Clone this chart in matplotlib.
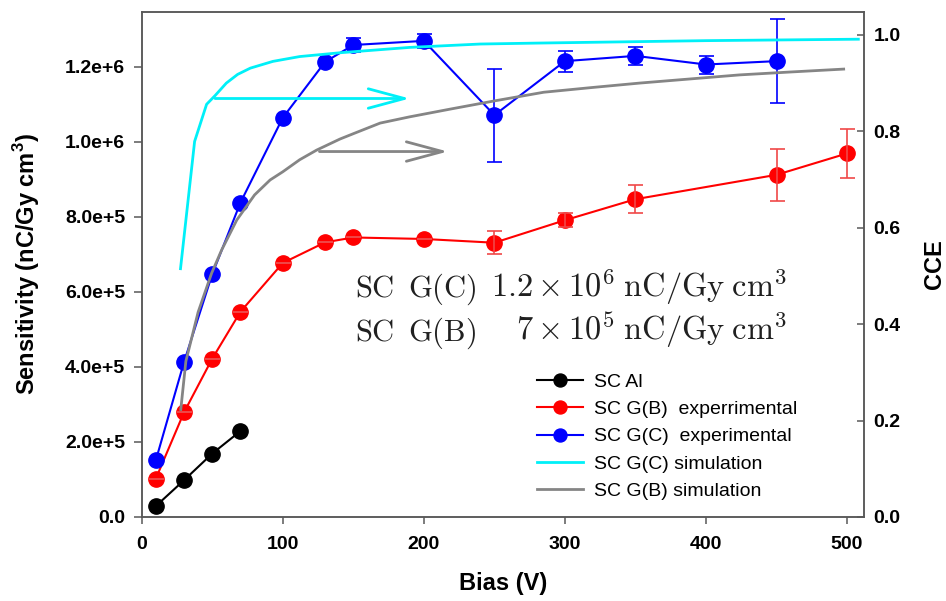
import matplotlib
matplotlib.use('Agg')
import matplotlib.pyplot as plt

plt.rcParams['font.family'] = ['Liberation Sans', 'DejaVu Sans']
plt.rcParams['mathtext.fontset'] = 'custom'
plt.rcParams['mathtext.rm'] = 'Liberation Sans:bold'
plt.rcParams['mathtext.bf'] = 'Liberation Sans:bold'

# --- data ---
bias_al = [10, 30, 50, 70]
sens_al = [2.9e4, 9.8e4, 1.69e5, 2.29e5]

bias_gb = [10, 30, 50, 70, 100, 130, 150, 200, 250, 300, 350, 450, 500]
sens_gb = [1.02e5, 2.79e5, 4.22e5, 5.47e5, 6.77e5, 7.32e5, 7.45e5, 7.41e5,
           7.31e5, 7.91e5, 8.47e5, 9.12e5, 9.69e5]
err_gb = [0, 0, 0, 0, 0, 0, 0, 0, 3.0e4, 1.9e4, 3.8e4, 7.0e4, 6.6e4]

bias_gc = [10, 30, 50, 70, 100, 130, 150, 200, 250, 300, 350, 400, 450]
sens_gc = [1.51e5, 4.13e5, 6.47e5, 8.38e5, 1.064e6, 1.213e6, 1.258e6, 1.269e6,
           1.071e6, 1.215e6, 1.229e6, 1.206e6, 1.215e6]
err_gc = [0, 0, 0, 0, 0, 0, 1.9e4, 1.8e4, 1.24e5, 2.8e4, 2.4e4, 2.4e4, 1.12e5]

sim_gc_bias = [27.5, 37.5, 46, 52, 60, 68, 77, 93, 112, 141, 190, 240, 282,
               400, 508]
sim_gc_cce = [0.515, 0.779, 0.856, 0.874, 0.900, 0.918, 0.931, 0.945, 0.955,
              0.963, 0.974, 0.981, 0.983, 0.988, 0.991]

sim_gb_bias = [27.7, 31.3, 40, 49.6, 56.7, 67.4, 80, 91, 100, 112, 124, 140.6,
               150, 169, 190, 218.7, 250, 285, 320, 353, 424, 460, 497.6]
sim_gb_cce = [0.223, 0.323, 0.425, 0.506, 0.554, 0.616, 0.668, 0.699, 0.716,
              0.741, 0.761, 0.784, 0.795, 0.817, 0.830, 0.846, 0.863, 0.881,
              0.891, 0.900, 0.917, 0.923, 0.929]

xticks = [0, 100, 200, 300, 400, 500]
yticks = [0, 2e5, 4e5, 6e5, 8e5, 1.0e6, 1.2e6]
ylabels = ['0.0', '2.0e+5', '4.0e+5', '6.0e+5', '8.0e+5', '1.0e+6', '1.2e+6']
cce_ticks = [0.0, 0.2, 0.4, 0.6, 0.8, 1.0]
cce_labels = ['0.0', '0.2', '0.4', '0.6', '0.8', '1.0']

spine_col = '#585858'
cyan = '#00f0f8'
grey = '#858585'

fig = plt.figure(figsize=(9.46, 6.01), dpi=100)
ax = fig.add_axes([0.1498, 0.1398, 0.7635, 0.8407])
ax2 = ax.twinx()

ms = 11
h1, = ax.plot(bias_al, sens_al, '-o', color='black', lw=1.5, ms=ms, label='SC Al')
h2, = ax.plot(bias_gb, sens_gb, '-o', color='red', lw=1.5, ms=ms,
              label='SC G(B)  experrimental')
h3, = ax.plot(bias_gc, sens_gc, '-o', color='blue', lw=1.5, ms=ms,
              label='SC G(C)  experimental')
ax.errorbar(bias_gb, sens_gb, yerr=err_gb, fmt='none', ecolor='#f04848',
            elinewidth=1.2, capsize=5.4, capthick=1.2)
ax.errorbar(bias_gc, sens_gc, yerr=err_gc, fmt='none', ecolor='blue',
            elinewidth=1.2, capsize=5.4, capthick=1.2)

h4, = ax2.plot(sim_gc_bias, sim_gc_cce, color=cyan, lw=2.0,
               label='SC G(C) simulation')
h5, = ax2.plot(sim_gb_bias, sim_gb_cce, color=grey, lw=2.0,
               label='SC G(B) simulation')

# arrows pointing to the CCE axis
ax2.annotate('', xy=(190, 0.868), xytext=(52, 0.868),
             arrowprops=dict(arrowstyle='->,head_length=2.6,head_width=0.7',
                             color=cyan, lw=2.0, shrinkA=0, shrinkB=0))
ax2.annotate('', xy=(217, 0.758), xytext=(126, 0.758),
             arrowprops=dict(arrowstyle='->,head_length=2.6,head_width=0.7',
                             color=grey, lw=2.0, shrinkA=0, shrinkB=0))

ax.set_xlim(0, 512)
ax.set_ylim(0, 1.3467e6)
ax2.set_ylim(0, 1.048)

ax.set_xticks(xticks)
ax.set_xticklabels([str(v) for v in xticks])
ax.set_yticks(yticks)
ax.set_yticklabels(ylabels)
ax2.set_yticks(cce_ticks)
ax2.set_yticklabels(cce_labels)

for a in (ax, ax2):
    for s in a.spines.values():
        s.set_color(spine_col)
        s.set_linewidth(1.1)
ax.tick_params(axis='y', direction='out', length=6, width=1.1, color=spine_col,
               labelsize=14, pad=6)
ax.tick_params(axis='x', direction='out', length=5, width=1.1, color=spine_col,
               labelsize=14, pad=9)
ax2.tick_params(axis='y', direction='in', length=5, width=1.1, color=spine_col,
                labelsize=14, pad=7)
for lab in ax.get_xticklabels() + ax.get_yticklabels() + ax2.get_yticklabels():
    lab.set_fontweight('bold')

ax.set_ylabel(r'Sensitivity (nC/Gy cm$^{\mathbf{3}}$)', fontsize=17,
              fontweight='bold')
ax.yaxis.set_label_coords(-0.138, 0.5)
ax.set_xlabel('Bias (V)', fontsize=17, fontweight='bold')
ax.xaxis.set_label_coords(0.5, -0.108)
ax2.set_ylabel('CCE', fontsize=17, fontweight='bold')
ax2.yaxis.set_label_coords(1.082, 0.5)

# sensitivity annotations
tcol = '#202020'
rows = [(5.87e5, 'SC', 'G(C)', r'1.2\times10^6\;nC/Gy\;cm^3'),
        (4.71e5, 'SC', 'G(B)', r'7\times10^5\;nC/Gy\;cm^3')]
for yv, a_txt, b_txt, c_txt in rows:
    ax.text(151.3, yv, r'$\mathrm{%s}$' % a_txt, math_fontfamily='cm',
            fontsize=22, color=tcol, va='baseline', ha='left')
    ax.text(188.8, yv, r'$\mathrm{%s}$' % b_txt, math_fontfamily='cm',
            fontsize=22, color=tcol, va='baseline', ha='left')
    ax.text(457.4, yv, r'$\mathrm{%s}$' % c_txt, math_fontfamily='cm',
            fontsize=23.3, color=tcol, va='baseline', ha='right')

ax2.legend(handles=[h1, h2, h3, h4, h5], loc='center',
           bbox_to_anchor=(0.7048, 0.2734), bbox_transform=fig.transFigure,
           frameon=False, fontsize=14, handlelength=2.4, handletextpad=0.52,
           labelspacing=0.5, markerscale=0.85)

fig.savefig('out.png', dpi=100)
